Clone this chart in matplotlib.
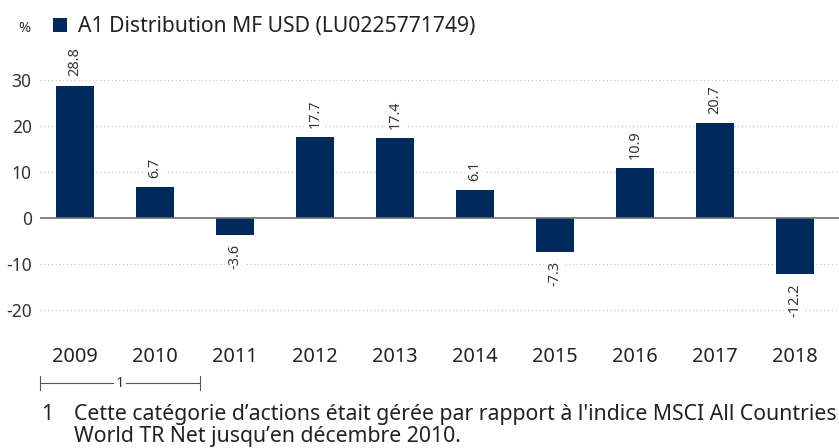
import matplotlib
matplotlib.use("Agg")
import matplotlib.pyplot as plt
from matplotlib.patches import Rectangle
from matplotlib.lines import Line2D

plt.rcParams['font.family'] = ['Noto Sans', 'DejaVu Sans']

years = ["2009", "2010", "2011", "2012", "2013", "2014", "2015", "2016", "2017", "2018"]
values = [28.8, 6.7, -3.6, 17.7, 17.4, 6.1, -7.3, 10.9, 20.7, -12.2]
yticks = [30, 20, 10, 0, -10, -20]
series_name = "A1 Distribution MF USD (LU0225771749)"
footnote_lines = ["Cette catégorie d’actions était gérée par rapport à l'indice MSCI All Countries",
                  "World TR Net jusqu’en décembre 2010."]

W, H = 839, 448
fig = plt.figure(figsize=(W/100, H/100), dpi=100)
renderer = fig.canvas.get_renderer()


def fit(s, target_px, base=12.0):
    t = fig.text(0, 0, s, fontsize=base)
    w = t.get_window_extent(renderer).width
    t.remove()
    return base * target_px / w


fs_legend = fit(series_name, 398)
fs_foot = min(fit(footnote_lines[1], 394), fit(footnote_lines[0], 760))
fs_year = fit("2009", 46)
fs_ytick = fit("30", 20)
fs_val = fit("28.8", 29)

ax_left, ax_right = 40/W, 1.0
ax_top, ax_bot = 1 - 70.8/H, 1 - 333/H
ax = fig.add_axes([ax_left, ax_bot, ax_right - ax_left, ax_top - ax_bot])

color = "#002a5c"
x = list(range(len(years)))
ax.bar(x, values, width=0.475, color=color, zorder=3)
ax.set_xlim(-0.4375, len(years) - 1 + 0.55)
ax.set_ylim(-25, 32)

for v in yticks:
    if v == 0:
        ax.axhline(0, color="#707070", lw=1.2, zorder=4)
    else:
        ax.axhline(v, color="#c8c8c8", lw=0.9, ls=(0, (1, 2)), zorder=1)

for xi, v in zip(x, values):
    off = 6.5 if v >= 0 else -6.5
    ax.annotate(f"{v:.1f}", (xi, v), xytext=(0, off), textcoords="offset points",
                rotation=90, ha="center", va="bottom" if v >= 0 else "top",
                fontsize=fs_val, color="#333333",
                bbox=dict(facecolor="white", edgecolor="none", pad=1.5), zorder=5)

ax.set_yticks(yticks)
ax.set_yticklabels([str(t) for t in yticks], fontsize=fs_ytick, color="#333333")
ax.set_xticks(x)
ax.set_xticklabels(years, fontsize=fs_year, color="#222222")
ax.tick_params(axis="both", length=0)
ax.tick_params(axis="x", pad=10)
ax.tick_params(axis="y", pad=6)
for s in ax.spines.values():
    s.set_visible(False)

# Header
fig.text(18/W, 1 - 32/H, "%", fontsize=10.5, color="#333333", ha="left", va="baseline")
fig.patches.append(Rectangle((53/W, 1 - 32/H), 14/W, 14/H, transform=fig.transFigure,
                             facecolor=color, edgecolor="none"))
fig.text(78/W, 1 - 32/H, series_name, fontsize=fs_legend, color="#222222",
         ha="left", va="baseline")

# Bracket
by = 1 - 383/H
lc = "#555555"
fig.add_artist(Line2D([40/W, 113/W], [by, by], transform=fig.transFigure, color=lc, lw=0.8))
fig.add_artist(Line2D([126/W, 200/W], [by, by], transform=fig.transFigure, color=lc, lw=0.8))
fig.add_artist(Line2D([40/W, 40/W], [by - 7/H, by + 7/H], transform=fig.transFigure, color=lc, lw=0.8))
fig.add_artist(Line2D([200/W, 200/W], [by - 7/H, by + 7/H], transform=fig.transFigure, color=lc, lw=0.8))
fig.text(119.5/W, by, "1", fontsize=10.5, color="#333333", ha="center", va="center")

# Footnote
fig.text(41/W, 1 - 420/H, "1", fontsize=fs_foot, color="#222222", ha="left", va="baseline")
fig.text(74/W, 1 - 420/H, footnote_lines[0], fontsize=fs_foot, color="#222222",
         ha="left", va="baseline")
fig.text(74/W, 1 - 442/H, footnote_lines[1], fontsize=fs_foot, color="#222222",
         ha="left", va="baseline")

fig.savefig("out.png", dpi=100)
